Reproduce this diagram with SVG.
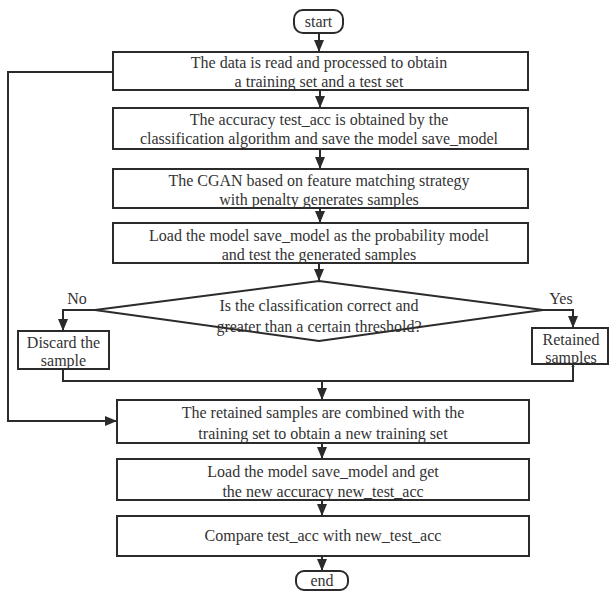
<svg xmlns="http://www.w3.org/2000/svg" width="609" height="591" viewBox="0 0 609 591">
<style>
.box{fill:#fff;stroke:#2b2b2b;stroke-width:2}
.t{font-family:"Liberation Serif","Times New Roman",serif;font-size:16px;fill:#333;text-anchor:middle}
.c{fill:none;stroke:#2b2b2b;stroke-width:2}
</style>
<defs>
<marker id="ah" viewBox="0 0 12 10" refX="12" refY="5" markerWidth="12" markerHeight="10" markerUnits="userSpaceOnUse" orient="auto">
<path d="M0,0 L12,5 L0,10 z" fill="#2b2b2b"/>
</marker>
</defs>
<rect width="609" height="591" fill="#fff"/>
<g id="connectors">
<line class="c" x1="319" y1="33" x2="319" y2="52" marker-end="url(#ah)"/>
<line class="c" x1="320" y1="90" x2="320" y2="108" marker-end="url(#ah)"/>
<line class="c" x1="320" y1="149" x2="320" y2="169" marker-end="url(#ah)"/>
<line class="c" x1="320" y1="208" x2="320" y2="223" marker-end="url(#ah)"/>
<line class="c" x1="319" y1="263" x2="319" y2="281" marker-end="url(#ah)"/>
<polyline class="c" points="95,310 63,310 63,331" marker-end="url(#ah)"/>
<polyline class="c" points="543,310 573,310 573,328" marker-end="url(#ah)"/>
<polyline class="c" points="63,369 63,381 573,381 573,364"/>
<line class="c" x1="322" y1="381" x2="322" y2="400" marker-end="url(#ah)"/>
<polyline class="c" points="113,72 8,72 8,421 117,421" marker-end="url(#ah)"/>
<line class="c" x1="322" y1="443" x2="322" y2="459" marker-end="url(#ah)"/>
<line class="c" x1="322" y1="500" x2="322" y2="516" marker-end="url(#ah)"/>
<line class="c" x1="322" y1="556" x2="322" y2="571" marker-end="url(#ah)"/>
</g>
<g id="start">
<rect class="box" x="294" y="10" width="49" height="23" rx="9"/>
<text class="t" x="318.5" y="27">start</text>
</g>
<g id="read">
<rect class="box" x="113" y="52" width="415" height="38"/>
<text class="t" x="319" y="68">The data is read and processed to obtain</text>
<text class="t" x="319" y="87">a training set and a test set</text>
</g>
<g id="classify">
<rect class="box" x="113" y="108" width="415" height="41"/>
<text class="t" x="319" y="125">The accuracy test_acc is obtained by the</text>
<text class="t" x="319" y="144">classification algorithm and save the model save_model</text>
</g>
<g id="cgan">
<rect class="box" x="113" y="169" width="415" height="39"/>
<text class="t" x="319" y="186">The CGAN based on feature matching strategy</text>
<text class="t" x="319" y="205">with penalty generates samples</text>
</g>
<g id="load1">
<rect class="box" x="113" y="223" width="415" height="40"/>
<text class="t" x="319" y="241">Load the model save_model as the probability model</text>
<text class="t" x="319" y="260">and test the generated samples</text>
</g>
<g id="decision">
<polygon class="box" points="319,281 543,310 319,341 95,310"/>
<text class="t" x="319" y="311">Is the classification correct and</text>
<text class="t" x="319" y="332">greater than a certain threshold?</text>
<text class="t" x="77" y="304">No</text>
<text class="t" x="561" y="304">Yes</text>
</g>
<g id="discard">
<rect class="box" x="18" y="331" width="91" height="38"/>
<text class="t" x="63.5" y="348">Discard the</text>
<text class="t" x="63.5" y="366">sample</text>
</g>
<g id="retained">
<rect class="box" x="532" y="328" width="76" height="36"/>
<text class="t" x="571" y="345">Retained</text>
<text class="t" x="571" y="363">samples</text>
</g>
<g id="combine">
<rect class="box" x="117" y="400" width="412" height="43"/>
<text class="t" x="323" y="418">The retained samples are combined with the</text>
<text class="t" x="323" y="439">training set to obtain a new training set</text>
</g>
<g id="load2">
<rect class="box" x="117" y="459" width="412" height="41"/>
<text class="t" x="323" y="477">Load the model save_model and get</text>
<text class="t" x="323" y="497">the new accuracy new_test_acc</text>
</g>
<g id="compare">
<rect class="box" x="117" y="516" width="412" height="40"/>
<text class="t" x="323" y="541">Compare test_acc with new_test_acc</text>
</g>
<g id="end">
<rect class="box" x="296" y="571" width="52" height="19" rx="8"/>
<text class="t" x="322" y="586">end</text>
</g>
</svg>
